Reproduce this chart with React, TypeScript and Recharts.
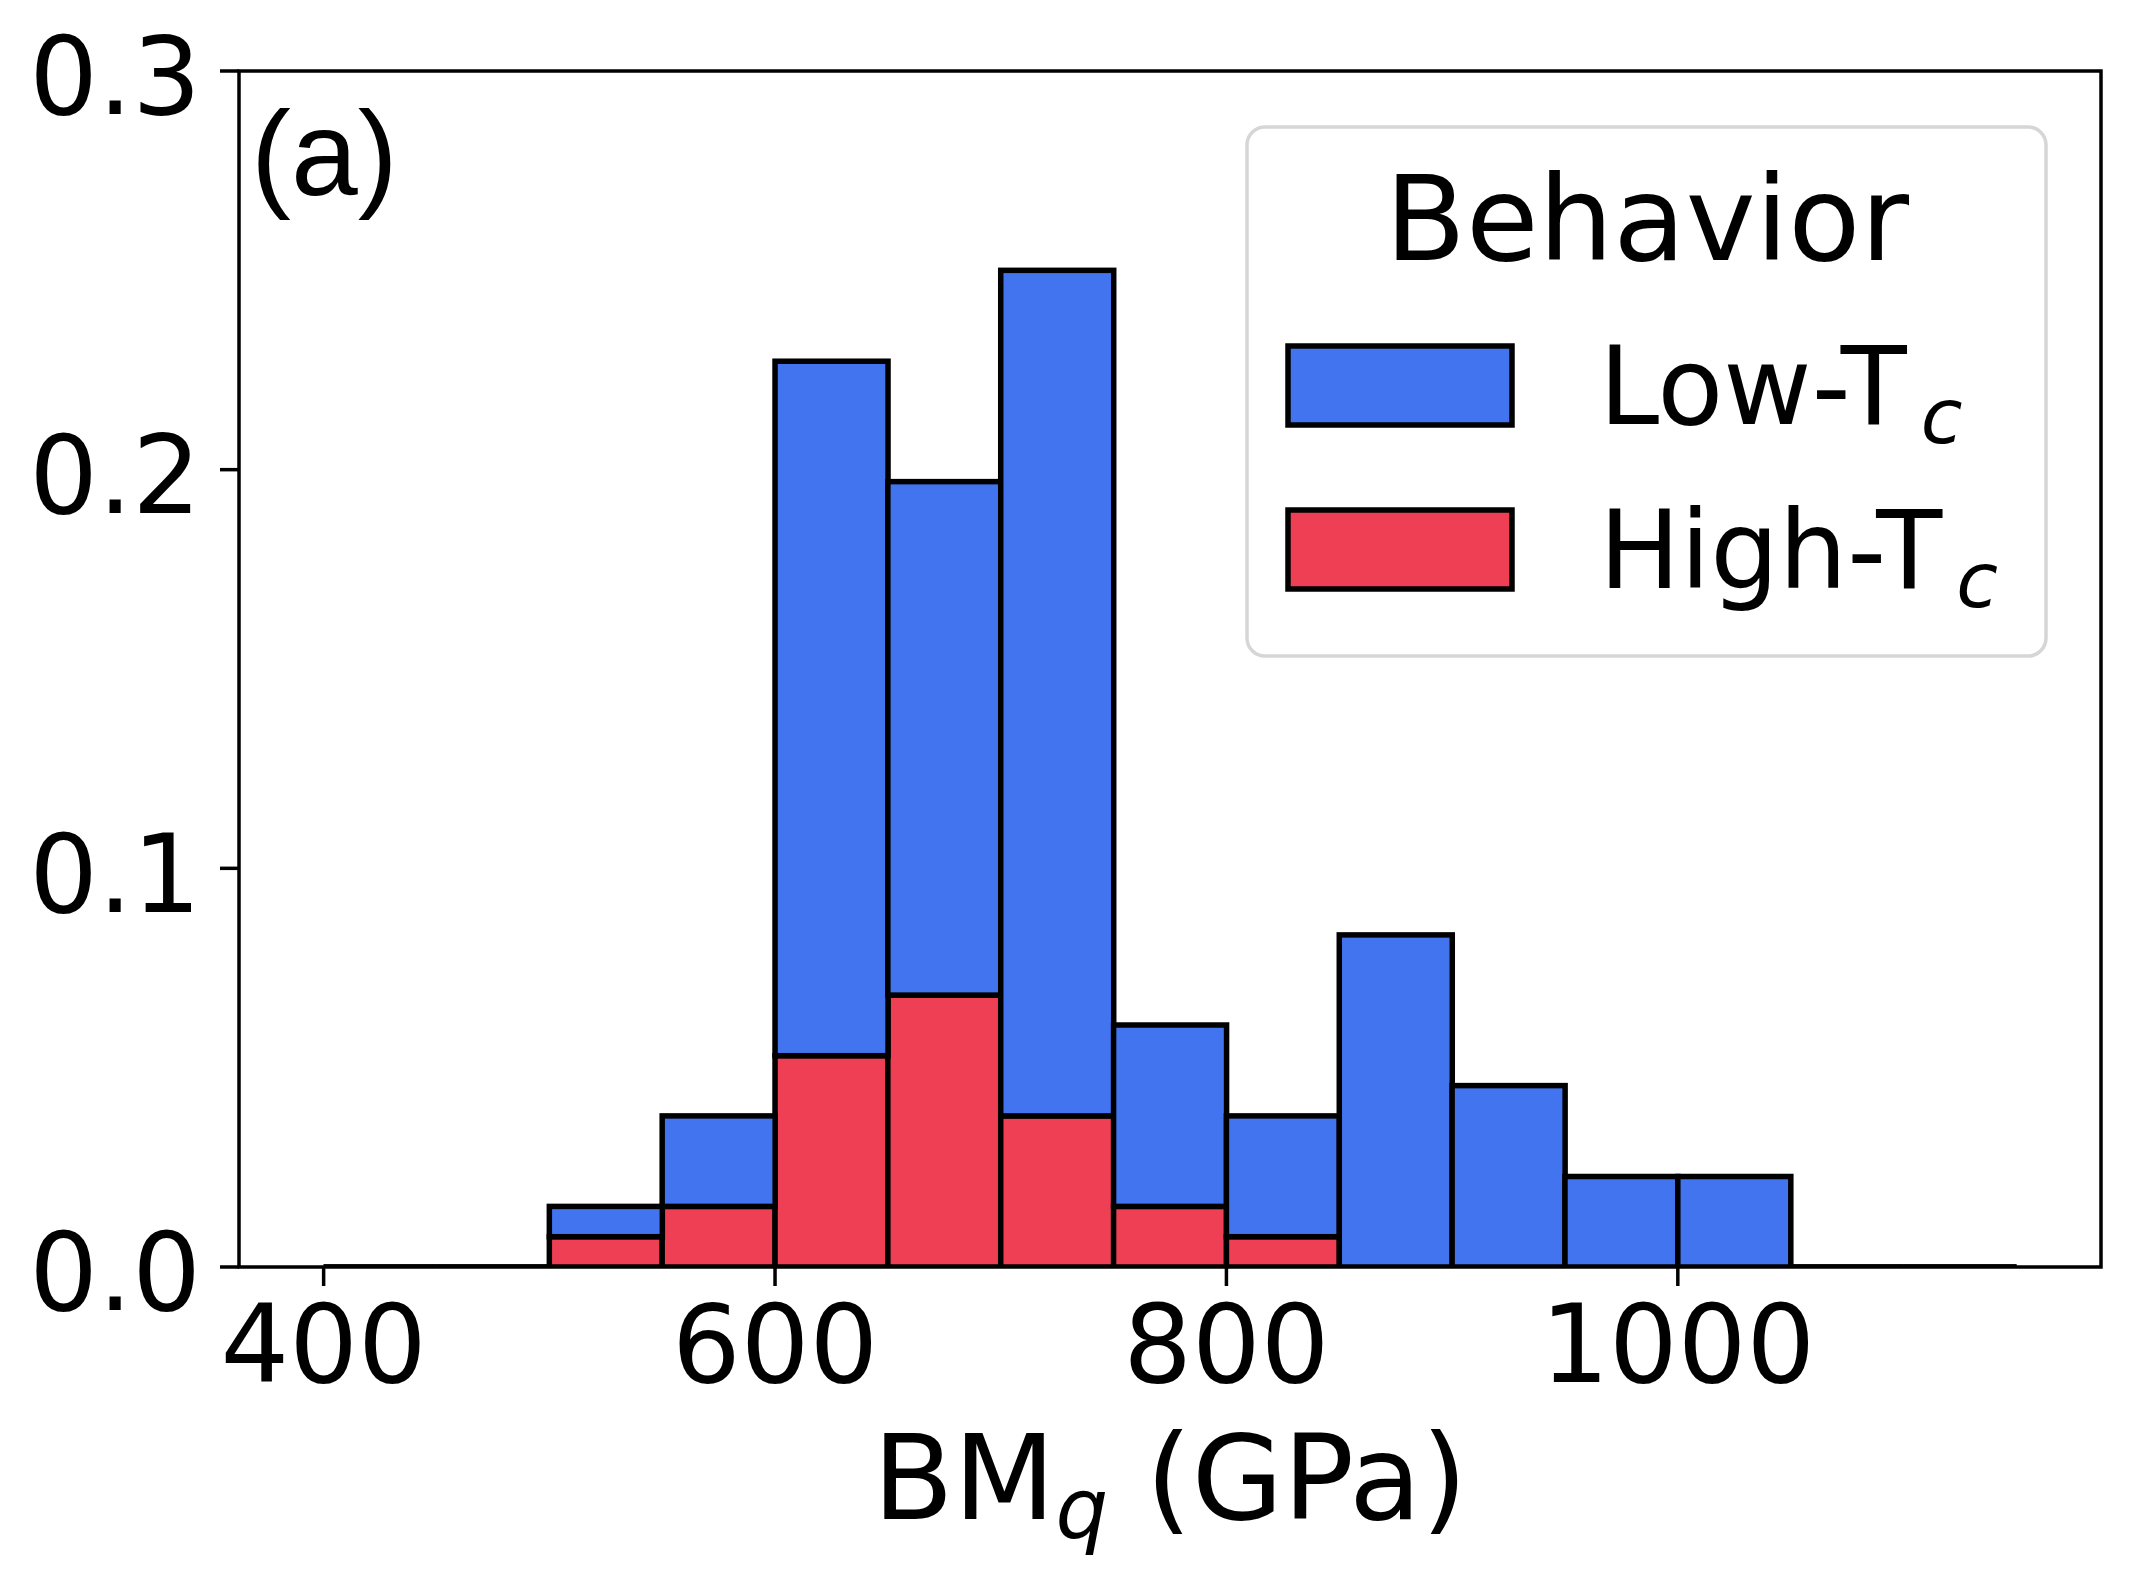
import React from 'react'
import { Bar, BarChart, Legend, ReferenceArea, XAxis, YAxis } from 'recharts'

// histogram bins (50 GPa wide), fraction of all compounds per bin
const binStarts = ['400', '450', '500', '550', '600', '650', '700', '750', '800', '850', '900', '950', '1000', '1050', '1100']
const lowTc = [0, 0, 0.0076, 0.0227, 0.1742, 0.1288, 0.2121, 0.0455, 0.0303, 0.0833, 0.0455, 0.0227, 0.0227, 0, 0]
const highTc = [0, 0, 0.0076, 0.0152, 0.053, 0.0682, 0.0379, 0.0152, 0.0076, 0, 0, 0, 0, 0, 0]
const xTicks = [400, 600, 800, 1000]
const yTicks = [0, 0.1, 0.2, 0.3]

const BLUE = '#4174EE'
const RED = '#EF3F55'
const FONT = '"DejaVu Sans", sans-serif'
const EDGE = 5.5

const W = 2131
const H = 1586
const M = { top: 71, right: 30, bottom: 119, left: 39 }
const Y_W = 200
const X_H = 200
const PLOT_W = W - M.left - M.right - Y_W
const X_MIN = 362.5
const X_MAX = 1187.5
const BIN = 50
const PAD = (PLOT_W * (BIN * 0.75)) / (X_MAX - X_MIN)

const data = binStarts.map((b, i) => ({
    bin: b,
    mid: Number(b) + BIN / 2,
    high: highTc[i],
    low: lowTc[i],
}))

const HistBar = (props: any) => {
    const { x, y, width, height, fill } = props
    if (!height) {
        return <line x1={x} x2={x + width} y1={y} y2={y} stroke="#000" strokeWidth={EDGE} />
    }
    return <rect x={x} y={y} width={width} height={height} fill={fill} stroke="#000" strokeWidth={EDGE} />
}

const XTick = ({ x, y, payload }: any) => (
    <text x={x} y={y} dy="0.71em" textAnchor="middle" fontFamily={FONT} fontSize={108} fill="#000">
        {payload.value}
    </text>
)

const YTick = ({ x, y, payload }: any) => (
    <text x={x} y={y} dy="0.4em" textAnchor="end" fontFamily={FONT} fontSize={108} fill="#000">
        {Number(payload.value).toFixed(1)}
    </text>
)

const XLabel = ({ viewBox }: any) => {
    const cx = viewBox.x + viewBox.width / 2
    return (
        <text x={cx} y={viewBox.y + 252} textAnchor="middle" fontFamily={FONT} fontSize={118} fill="#000">
            BM
            <tspan fontStyle="italic" fontSize={83} dy={19}>q</tspan>
            <tspan dy={-19}> (GPa)</tspan>
        </text>
    )
}

const seriesOrder = ['low', 'high']

const LegendBox = ({ payload }: any) => {
    const entries = seriesOrder
        .map((k) => (payload || []).find((p: any) => p.dataKey === k))
        .filter(Boolean)
    return (
        <svg width={803} height={533} style={{ display: 'block' }}>
            <rect x={2} y={2} width={799} height={529} rx={18} fill="#fff" fillOpacity={0.8} stroke="#d6d6d6" strokeWidth={3.5} />
            <text x={402} y={135} textAnchor="middle" fontFamily={FONT} fontSize={118} fill="#000">
                Behavior
            </text>
            {entries.map((e: any, i: number) => (
                <g key={e.dataKey}>
                    <rect x={43} y={221 + i * 164} width={224} height={79} fill={e.color} stroke="#000" strokeWidth={EDGE} />
                    <text x={354} y={299 + i * 164} fontFamily={FONT} fontSize={108} fill="#000">
                        {e.value}
                        <tspan fontStyle="italic" fontSize={76} dx={14} dy={19}>c</tspan>
                    </text>
                </g>
            ))}
        </svg>
    )
}

export default function App() {
    return (
        <div style={{ position: 'absolute', left: 0, top: 0, width: W, height: H, background: '#fff' }}>
            <BarChart width={W} height={H} data={data} margin={M} barCategoryGap={0} barGap={0}>
                <XAxis xAxisId="bins" dataKey="bin" type="category" hide height={0} padding={{ left: PAD, right: PAD }} />
                <XAxis
                    xAxisId="value"
                    dataKey="mid"
                    type="number"
                    domain={[X_MIN, X_MAX]}
                    allowDataOverflow
                    ticks={xTicks}
                    height={X_H}
                    axisLine={false}
                    tickSize={19}
                    tickMargin={19}
                    tickLine={{ stroke: '#000', strokeWidth: 3.5 }}
                    tick={<XTick />}
                    label={<XLabel />}
                />
                <YAxis
                    type="number"
                    domain={[0, 0.3]}
                    allowDataOverflow
                    ticks={yTicks}
                    width={Y_W}
                    axisLine={false}
                    tickSize={19}
                    tickMargin={19}
                    tickLine={{ stroke: '#000', strokeWidth: 3.5 }}
                    tick={<YTick />}
                />
                <Bar xAxisId="bins" dataKey="high" name="High-T" stackId="s" fill={RED} shape={<HistBar />} isAnimationActive={false} />
                <Bar xAxisId="bins" dataKey="low" name="Low-T" stackId="s" fill={BLUE} shape={<HistBar />} isAnimationActive={false} />
                <ReferenceArea
                    xAxisId="value"
                    x1={X_MIN}
                    x2={X_MAX}
                    y1={0}
                    y2={0.3}
                    fill="none"
                    stroke="#000"
                    strokeWidth={3.5}
                    ifOverflow="visible"
                />
                <Legend
                    layout="vertical"
                    align="center"
                    verticalAlign="middle"
                    content={<LegendBox />}
                    wrapperStyle={{ left: 1245, top: 125, width: 803, height: 533 }}
                />
                <text x={251} y={195} fontFamily='"Liberation Sans", Arial, sans-serif' fontSize={120} fill="#000">
                    (a)
                </text>
            </BarChart>
        </div>
    )
}
